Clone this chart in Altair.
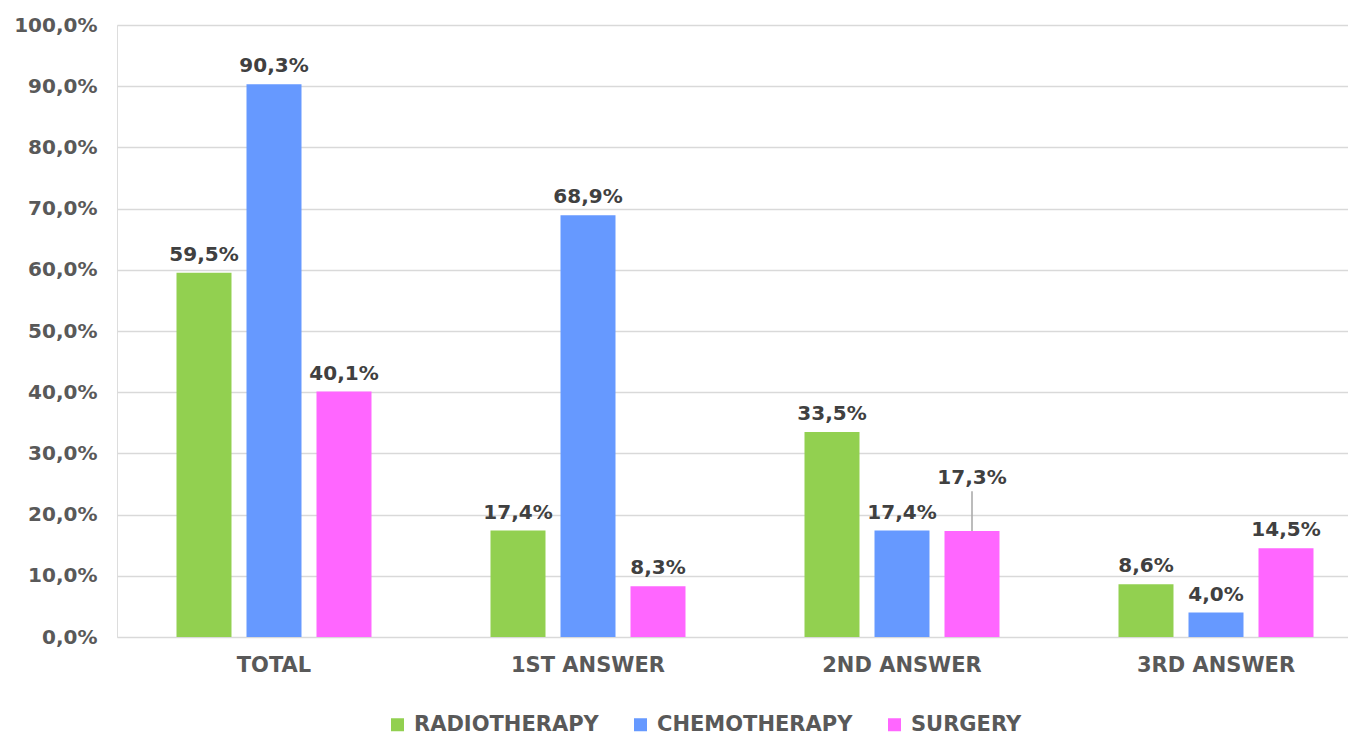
import altair as alt
import pandas as pd

categories = ["TOTAL", "1ST ANSWER", "2ND ANSWER", "3RD ANSWER"]
series = ["RADIOTHERAPY", "CHEMOTHERAPY", "SURGERY"]
radiotherapy = [59.5, 17.4, 33.5, 8.6]
chemotherapy = [90.3, 68.9, 17.4, 4.0]
surgery = [40.1, 8.3, 17.3, 14.5]
y_ticks = [0, 10, 20, 30, 40, 50, 60, 70, 80, 90, 100]
colors = ["#92D050", "#6699FF", "#FF66FF"]

rows = []
for s, vals in zip(series, [radiotherapy, chemotherapy, surgery]):
    for c, v in zip(categories, vals):
        rows.append({"category": c, "series": s, "value": v})
df = pd.DataFrame(rows)

FONT = "DejaVu Sans"

base = alt.Chart(df).transform_calculate(
    label="replace(format(datum.value, '.1f'), '.', ',') + '%'",
    callout="datum.category == '2ND ANSWER' && datum.series == 'SURGERY'",
    lead="datum.value + 6.5",
).encode(
    x=alt.X(
        "category:N",
        sort=categories,
        scale=alt.Scale(range=[0, 1256], paddingInner=0, paddingOuter=0),
        axis=alt.Axis(
            title=None, labelAngle=0, labelFont=FONT, labelFontSize=21,
            labelFontWeight="bold", labelColor="#595959", labelPadding=17,
            domain=False, ticks=False, grid=False,
        ),
    ),
    xOffset=alt.XOffset(
        "series:N", sort=series,
        scale=alt.Scale(paddingInner=0.2143, paddingOuter=0.85),
    ),
    y=alt.Y(
        "value:Q",
        scale=alt.Scale(domain=[0, 100]),
        axis=alt.Axis(
            title=None, values=y_ticks,
            labelExpr="replace(format(datum.value, '.1f'), '.', ',') + '%'",
            labelFont=FONT, labelFontSize=20, labelFontWeight="bold",
            labelColor="#595959", labelPadding=20,
            domain=False, ticks=False, grid=True,
            gridColor="#D9D9D9", gridWidth=1.5,
        ),
    ),
)

bars = base.mark_bar().encode(
    color=alt.Color(
        "series:N",
        sort=series,
        scale=alt.Scale(domain=series, range=colors),
        legend=alt.Legend(
            title=None, orient="none", legendX=270, legendY=689,
            direction="horizontal", symbolType="square", symbolSize=169,
            symbolStrokeWidth=0, labelFont=FONT, labelFontSize=21,
            labelFontWeight="bold", labelColor="#595959", labelLimit=0,
            columnPadding=31, labelOffset=6,
        ),
    )
)

labels = base.transform_filter("!datum.callout").mark_text(
    font=FONT, fontSize=20, fontWeight="bold", color="#404040",
    baseline="alphabetic", dy=-12,
).encode(text="label:N")

callout_rule = base.transform_filter("datum.callout").mark_rule(
    color="#A6A6A6", strokeWidth=1.5
).encode(y2="lead:Q")

callout_text = base.transform_filter("datum.callout").mark_text(
    font=FONT, fontSize=20, fontWeight="bold", color="#404040",
    baseline="alphabetic", dy=-47,
).encode(text="label:N")

chart = alt.layer(bars, labels, callout_rule, callout_text).properties(
    width=1231, height=612,
    padding={"left": 109, "top": 17, "right": 0, "bottom": 100},
    autosize=alt.AutoSizeParams(type="none"),
).configure_view(stroke=None).configure(background="white")

chart.save("out.html", embed_options={"renderer": "svg", "actions": False})
